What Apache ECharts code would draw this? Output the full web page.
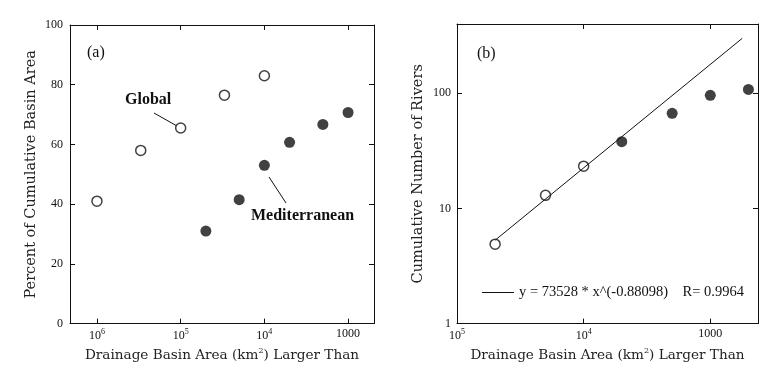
<!DOCTYPE html>
<html><head><meta charset="utf-8">
<script src="https://cdn.jsdelivr.net/npm/echarts@6/dist/echarts.min.js"></script>
<style>html,body{margin:0;padding:0;background:#fff}#c{width:774px;height:367px}</style>
</head><body><div id="c"></div>
<script>
// Panel (a): percent of cumulative basin area
const aGlobalX = [1000000, 300000, 100000, 30000, 10000];
const aGlobalY = [41, 58, 65.5, 76.5, 83];
const aMedX = [50000, 20000, 10000, 5000, 2000, 1000];
const aMedY = [31, 41.5, 53, 60.7, 66.7, 70.7];
const aYTicks = [0, 20, 40, 60, 80, 100];
// Panel (b): cumulative number of rivers
const bGlobalX = [50000, 20000, 10000];
const bGlobalY = [4.9, 13, 23.3];
const bMedX = [5000, 2000, 1000, 500];
const bMedY = [38, 67, 96, 108];
const fitX = [50000, 560];
const fitY = [5.3, 300];
const fitLabel = 'y = 73528 * x^(-0.88098)    R= 0.9964';

const FONT = 'Liberation Serif';
const NAMEFONT = 'DejaVu Serif';
const sup = {fontSize: 8, fontFamily: FONT, color: '#111', padding: [0, 0, 8, 0]};
function isPow10(v) { const l = Math.log10(v); return Math.abs(l - Math.round(l)) < 1e-6; }
function xFmt(v) {
  if (!isPow10(v)) return '';
  const e = Math.round(Math.log10(v));
  if (e === 3) return '1000';
  return '10{sup|' + e + '}';
}
function yLogFmt(v) {
  if (!isPow10(v)) return '';
  return String(Math.round(v));
}
const lineStyle = {color: '#111', width: 1};
const tickStyle = {show: true, inside: true, length: 5, lineStyle: {color: '#111', width: 1}};
const labelBase = {color: '#111', fontFamily: FONT, fontSize: 12, rich: {sup: sup}};
const xNameStyle = {color: '#222', fontFamily: NAMEFONT, fontSize: 13.6, rich: {sup: {fontSize: 8, fontFamily: NAMEFONT, color: '#222', padding: [0, 0, 9, 0]}}};
const yNameStyle = {color: '#222', fontFamily: NAMEFONT, fontSize: 14.5};

function xAxisLog(grid, min, max, pos, showLbl) {
  return {
    type: 'log', logBase: 10, gridIndex: grid, min: min, max: max, inverse: true,
    position: pos, splitLine: {show: false}, minorTick: {show: false},
    axisLine: {show: true, onZero: false, lineStyle: lineStyle},
    axisTick: tickStyle,
    axisLabel: Object.assign({show: showLbl, formatter: xFmt, margin: 4, showMinLabel: true, showMaxLabel: true}, labelBase),
    name: showLbl ? 'Drainage Basin Area (km{sup|2}) Larger Than' : '',
    nameLocation: 'middle', nameGap: 22, nameTextStyle: xNameStyle
  };
}
const option = {
  backgroundColor: '#fff',
  animation: false,
  grid: [
    {left: 70, top: 25, width: 304, height: 303},
    {left: 457, top: 24, width: 301, height: 302}
  ],
  xAxis: [
    xAxisLog(0, 490, 2100000, 'bottom', true),
    xAxisLog(0, 490, 2100000, 'top', false),
    xAxisLog(1, 420, 100000, 'bottom', true),
    xAxisLog(1, 420, 100000, 'top', false)
  ],
  yAxis: [
    {type: 'value', gridIndex: 0, min: aYTicks[0], max: aYTicks[aYTicks.length - 1], interval: 20, position: 'left',
     splitLine: {show: false}, axisLine: {show: true, onZero: false, lineStyle: lineStyle}, axisTick: tickStyle,
     axisLabel: Object.assign({margin: 7}, labelBase),
     name: 'Percent of Cumulative Basin Area', nameLocation: 'middle', nameGap: 31, nameTextStyle: yNameStyle},
    {type: 'value', gridIndex: 0, min: 0, max: 100, interval: 20, position: 'right',
     splitLine: {show: false}, axisLine: {show: true, onZero: false, lineStyle: lineStyle}, axisTick: tickStyle,
     axisLabel: {show: false}},
    {type: 'log', logBase: 10, gridIndex: 1, min: 1, max: 400, position: 'left',
     splitLine: {show: false}, minorTick: {show: false}, axisLine: {show: true, onZero: false, lineStyle: lineStyle}, axisTick: tickStyle,
     axisLabel: Object.assign({margin: 6, formatter: yLogFmt, showMinLabel: true}, labelBase),
     name: 'Cumulative Number of Rivers', nameLocation: 'middle', nameGap: 31, nameTextStyle: yNameStyle},
    {type: 'log', logBase: 10, gridIndex: 1, min: 1, max: 400, position: 'right',
     splitLine: {show: false}, minorTick: {show: false}, axisLine: {show: true, onZero: false, lineStyle: lineStyle}, axisTick: tickStyle,
     axisLabel: {show: false}}
  ],
  legend: {
    data: [{name: fitLabel, icon: 'rect'}],
    left: 482, top: 285, padding: 0, itemWidth: 32, itemHeight: 1, itemGap: 2,
    textStyle: {color: '#111', fontFamily: FONT, fontSize: 14.5},
    selectedMode: false
  },
  series: [
    {type: 'scatter', xAxisIndex: 0, yAxisIndex: 0, symbol: 'circle', symbolSize: 10,
     itemStyle: {color: '#fff', borderColor: '#111', borderWidth: 1.5},
     data: aGlobalX.map((x, i) => [x, aGlobalY[i]])},
    {type: 'scatter', xAxisIndex: 0, yAxisIndex: 0, symbol: 'circle', symbolSize: 11,
     itemStyle: {color: '#111'},
     data: aMedX.map((x, i) => [x, aMedY[i]])},
    {type: 'line', name: fitLabel, xAxisIndex: 2, yAxisIndex: 2, symbol: 'none',
     lineStyle: {color: '#111', width: 1}, itemStyle: {color: '#111'},
     data: fitX.map((x, i) => [x, fitY[i]])},
    {type: 'scatter', xAxisIndex: 2, yAxisIndex: 2, symbol: 'circle', symbolSize: 10,
     itemStyle: {color: '#fff', borderColor: '#111', borderWidth: 1.5},
     data: bGlobalX.map((x, i) => [x, bGlobalY[i]])},
    {type: 'scatter', xAxisIndex: 2, yAxisIndex: 2, symbol: 'circle', symbolSize: 11,
     itemStyle: {color: '#111'},
     data: bMedX.map((x, i) => [x, bMedY[i]])}
  ],
  graphic: [
    {type: 'text', left: 87, top: 45, style: {text: '(a)', fontFamily: FONT, fontSize: 16, fill: '#111'}},
    {type: 'text', left: 477, top: 46, style: {text: '(b)', fontFamily: FONT, fontSize: 16, fill: '#111'}},
    {type: 'text', left: 125, top: 92, style: {text: 'Global', fontFamily: FONT, fontSize: 16, fontWeight: 'bold', fill: '#111'}},
    {type: 'line', shape: {x1: 154, y1: 113, x2: 177, y2: 126}, style: {stroke: '#111', lineWidth: 1}},
    {type: 'text', left: 251, top: 208, style: {text: 'Mediterranean', fontFamily: FONT, fontSize: 16, fontWeight: 'bold', fill: '#111'}},
    {type: 'line', shape: {x1: 269, y1: 177, x2: 286, y2: 203}, style: {stroke: '#111', lineWidth: 1}}
  ]
};
const chart = echarts.init(document.getElementById('c'), null, {renderer: 'canvas'});
chart.setOption(option);
</script></body></html>
